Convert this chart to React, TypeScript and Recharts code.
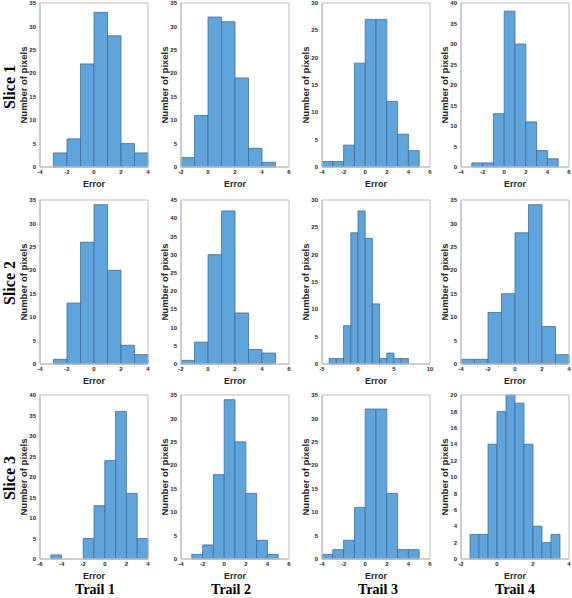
import React from 'react';
import { ComposedChart, XAxis, YAxis, Line, ReferenceArea, Label } from 'recharts';

const slices = ['Slice 1', 'Slice 2', 'Slice 3'];
const trails = ['Trail 1', 'Trail 2', 'Trail 3', 'Trail 4'];

// histogram counts, one array per panel (slice x trail)
const s1t1 = [3, 6, 22, 33, 28, 5, 3];
const s1t2 = [2, 11, 32, 31, 19, 4, 1];
const s1t3 = [1, 1, 4, 19, 27, 27, 12, 6, 3];
const s1t4 = [1, 1, 13, 38, 30, 11, 4, 2];
const s2t1 = [1, 13, 26, 34, 20, 4, 2];
const s2t2 = [1, 6, 30, 42, 14, 4, 3];
const s2t3 = [1, 1, 7, 24, 28, 23, 11, 1, 2, 1, 1];
const s2t4 = [1, 1, 11, 15, 28, 34, 8, 2];
const s3t1 = [1, 0, 0, 5, 13, 24, 36, 16, 5];
const s3t2 = [1, 3, 18, 34, 25, 14, 4, 1];
const s3t3 = [1, 2, 4, 11, 32, 32, 14, 2, 2];
const s3t4 = [3, 3, 14, 18, 20, 19, 14, 4, 2, 3];

const counts = [
  [s1t1, s1t2, s1t3, s1t4],
  [s2t1, s2t2, s2t3, s2t4],
  [s3t1, s3t2, s3t3, s3t4],
];

// left edge of the first bin and bin width
const binStarts = [
  [-3, -2, -4, -3],
  [-3, -2, -4, -4],
  [-5, -3, -4, -1.5],
];
const binWidths = [
  [1, 1, 1, 1],
  [1, 1, 1, 1],
  [1, 1, 1, 0.5],
];

// tick labels
const xA = [-4, -2, 0, 2, 4];
const xB = [-2, 0, 2, 4, 6];
const xC = [-4, -2, 0, 2, 4, 6];
const xD = [-5, 0, 5, 10];
const xE = [-6, -4, -2, 0, 2, 4];
const xF = [-2, 0, 2, 4];
const xTicks = [
  [xA, xB, xC, xC],
  [xA, xB, xD, xA],
  [xE, xC, xC, xF],
];

const y30 = [0, 5, 10, 15, 20, 25, 30];
const y35 = [0, 5, 10, 15, 20, 25, 30, 35];
const y40 = [0, 5, 10, 15, 20, 25, 30, 35, 40];
const y45 = [0, 5, 10, 15, 20, 25, 30, 35, 40, 45];
const y20 = [0, 2, 4, 6, 8, 10, 12, 14, 16, 18, 20];
const yTicks = [
  [y35, y35, y30, y40],
  [y35, y45, y30, y35],
  [y40, y35, y35, y20],
];

const colLeft = [40, 181, 322, 461];
const rowTop = [3, 200, 395];
const PLOT_W = 108;
const PLOT_H = 164;

const FILL = '#5FA4DA';
const EDGE = '#3D6F9C';
const BOX = '#BDBDBD';
const sans = '"Liberation Sans", Arial, sans-serif';
const serif = '"Liberation Serif", "Times New Roman", serif';

const Panel = ({ r, c }: { r: number; c: number }) => {
  const data = counts[r][c].map((n, i) => ({
    lo: binStarts[r][c] + i * binWidths[r][c],
    hi: binStarts[r][c] + (i + 1) * binWidths[r][c],
    x: binStarts[r][c] + (i + 0.5) * binWidths[r][c],
    n,
  }));
  const xt = xTicks[r][c];
  const yt = yTicks[r][c];
  const xDom: [number, number] = [xt[0], xt[xt.length - 1]];
  const yDom: [number, number] = [0, yt[yt.length - 1]];
  const tick = { fontSize: 6, fill: '#262626', fontFamily: sans, fontWeight: 700 };

  return (
    <div style={{ position: 'absolute', left: colLeft[c] - 40, top: rowTop[r] - 3 }}>
      <ComposedChart
        width={40 + PLOT_W + 4}
        height={3 + PLOT_H + 20 + 2}
        data={data}
        margin={{ top: 3, right: 4, bottom: 2, left: 0 }}
      >
        <XAxis
          dataKey="x"
          type="number"
          domain={xDom}
          ticks={xt}
          interval={0}
          allowDataOverflow
          height={20}
          tickLine={false}
          tickSize={2}
          tickMargin={1}
          axisLine={{ stroke: BOX }}
          tick={tick}
        >
          <Label
            value="Error"
            position="insideBottom"
            offset={0}
            style={{ fontSize: 9, fontWeight: 700, fill: '#262626', fontFamily: sans }}
          />
        </XAxis>
        <YAxis
          type="number"
          domain={yDom}
          ticks={yt}
          interval={0}
          allowDataOverflow
          width={40}
          tickLine={false}
          tickSize={2}
          tickMargin={2}
          axisLine={{ stroke: BOX }}
          tick={tick}
        >
          <Label
            value="Number of pixels"
            angle={-90}
            position="center"
            dx={4}
            style={{ fontSize: 9.5, fontWeight: 700, fill: '#262626', fontFamily: sans, textAnchor: 'middle' }}
          />
        </YAxis>
        {data.map((d, i) =>
          d.n > 0 ? (
            <ReferenceArea
              key={i}
              x1={d.lo}
              x2={d.hi}
              y1={0}
              y2={d.n}
              fill={FILL}
              fillOpacity={1}
              stroke={EDGE}
              strokeWidth={0.8}
            />
          ) : null
        )}
        <ReferenceArea
          x1={xDom[0]}
          x2={xDom[1]}
          y1={yDom[0]}
          y2={yDom[1]}
          fill="none"
          stroke={BOX}
          strokeWidth={1}
        />
        <Line dataKey="n" stroke="none" dot={false} isAnimationActive={false} />
      </ComposedChart>
    </div>
  );
};

const sliceY = [87, 283, 478];
const trailX = [95, 231, 378, 515];

export default function App() {
  return (
    <div style={{ position: 'absolute', left: 0, top: 0, width: 572, height: 598, background: '#fff' }}>
      {slices.map((_, r) => trails.map((__, c) => <Panel key={`${r}-${c}`} r={r} c={c} />))}
      <svg width={572} height={598} style={{ position: 'absolute', left: 0, top: 0, pointerEvents: 'none' }}>
        {slices.map((s, r) => (
          <text
            key={s}
            x={0}
            y={0}
            transform={`translate(15, ${sliceY[r]}) rotate(-90)`}
            textAnchor="middle"
            fontFamily={serif}
            fontWeight={700}
            fontSize={16}
            fill="#000"
          >
            {s}
          </text>
        ))}
        {trails.map((t, c) => (
          <text
            key={t}
            x={trailX[c]}
            y={594}
            textAnchor="middle"
            fontFamily={serif}
            fontWeight={700}
            fontSize={14}
            fill="#000"
          >
            {t}
          </text>
        ))}
      </svg>
    </div>
  );
}
